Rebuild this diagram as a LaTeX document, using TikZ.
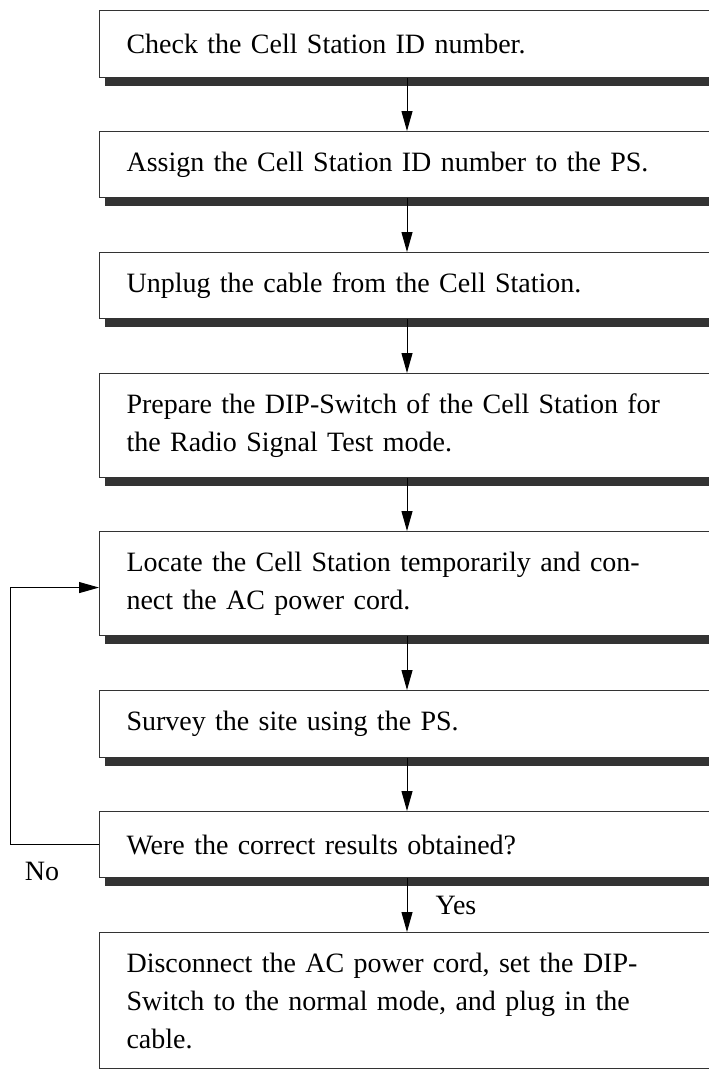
\documentclass[tikz,border=0pt]{standalone}
\usepackage{fontspec}
\setmainfont{Liberation Serif}
\usetikzlibrary{arrows.meta,shadows}
\definecolor{edge}{HTML}{333333}
\tikzset{
  stepbox/.style={draw=edge, line width=1.1pt, fill=white, anchor=north west,
    text width=600pt, align=left, inner xsep=27pt, inner ysep=0pt,
    font=\fontsize{28}{38}\selectfont},
  shadowed/.style={drop shadow={shadow xshift=5pt, shadow yshift=-8.5pt, fill=edge, opacity=1}},
  arr/.style={draw=black, line width=1pt, -{Triangle[length=20pt,width=11pt]}},
  lbl/.style={font=\fontsize{28}{34}\selectfont, inner sep=0pt}
}
\begin{document}
\begin{tikzpicture}[x=1pt,y=-1pt]
\clip (0,0) rectangle (709,1069);
\fill[white] (0,0) rectangle (709,1069);
\coordinate (ax) at (407,0);
\coordinate (lp) at (10,0);
\node[stepbox,shadowed,minimum height=67pt] (b1) at (99,10) {Check the Cell Station ID number.};
\node[stepbox,shadowed,minimum height=66pt] (b2) at (99,131) {Assign the Cell Station ID number to the PS.};
\node[stepbox,shadowed,minimum height=66pt] (b3) at (99,252) {Unplug the cable from the Cell Station.};
\node[stepbox,shadowed,minimum height=104pt] (b4) at (99,373) {Prepare the DIP-Switch of the Cell Station for\\the Radio Signal Test mode.};
\node[stepbox,shadowed,minimum height=104pt] (b5) at (99,531) {Locate the Cell Station temporarily and con-\\nect the AC power cord.};
\node[stepbox,shadowed,minimum height=67pt] (b6) at (99,690) {Survey the site using the PS.};
\node[stepbox,shadowed,minimum height=66pt] (b7) at (99,811) {Were the correct results obtained?};
\node[stepbox,minimum height=136pt] (b8) at (99,932) {Disconnect the AC power cord, set the DIP-\\Switch to the normal mode, and plug in the\\cable.};
\draw[arr] (b1.south -| ax) -- (b2.north -| ax);
\draw[arr] (b2.south -| ax) -- (b3.north -| ax);
\draw[arr] (b3.south -| ax) -- (b4.north -| ax);
\draw[arr] (b4.south -| ax) -- (b5.north -| ax);
\draw[arr] (b5.south -| ax) -- (b6.north -| ax);
\draw[arr] (b6.south -| ax) -- (b7.north -| ax);
\draw[arr] (b7.south -| ax) -- (b8.north -| ax);
\draw[arr] (b7.west) -- (b7.west -| lp) -- ([yshift=-4pt]b5.west -| lp) -- ([yshift=-4pt]b5.west);
\node[lbl] (no) at (42,871) {No};
\node[lbl] (yes) at (456,905) {Yes};
\end{tikzpicture}
\end{document}
